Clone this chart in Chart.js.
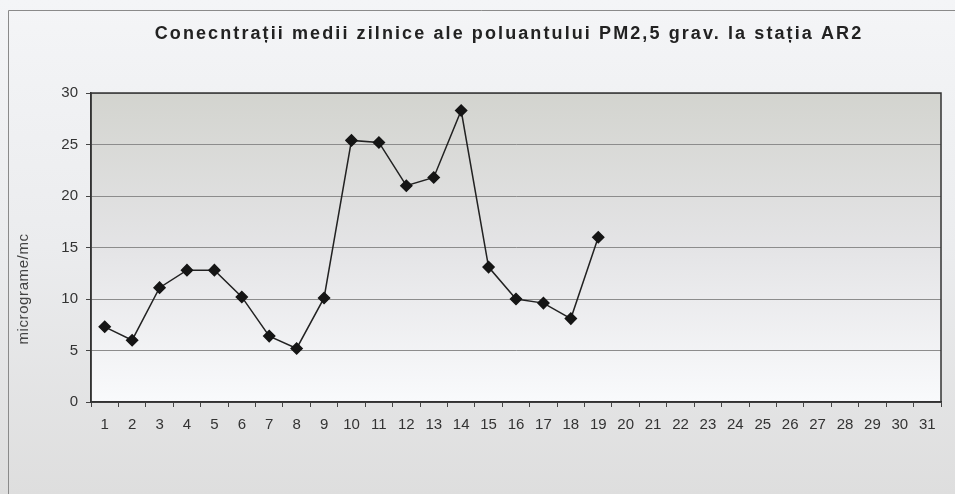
<!DOCTYPE html>
<html>
<head>
<meta charset="utf-8">
<script src="https://cdn.jsdelivr.net/npm/chart.js@4.4.1/dist/chart.umd.min.js"></script>
<style>
  html, body { margin: 0; padding: 0; background: #eeeff1; }
  #wrap { width: 955px; height: 494px; position: relative; }
</style>
</head>
<body>
<div id="wrap"><canvas id="c" width="955" height="494"></canvas></div>
<script>
const titleText = "Conecntrații medii zilnice ale poluantului PM2,5 grav. la stația AR2";
const yAxisTitle = "micrograme/mc";
const days = ["1","2","3","4","5","6","7","8","9","10","11","12","13","14","15","16","17","18","19","20","21","22","23","24","25","26","27","28","29","30","31"];
const pm25 = [7.3, 6.0, 11.1, 12.8, 12.8, 10.2, 6.4, 5.2, 10.1, 25.4, 25.2, 21.0, 21.8, 28.3, 13.1, 10.0, 9.6, 8.1, 16.0,
              null, null, null, null, null, null, null, null, null, null, null, null];
const yTicks = [0, 5, 10, 15, 20, 25, 30];

const decor = {
  id: 'decor',
  beforeDraw(chart) {
    const { ctx, chartArea: a, width, height } = chart;
    ctx.save();
    let g = ctx.createLinearGradient(0, 0, 0, height);
    g.addColorStop(0, '#f4f5f7');
    g.addColorStop(0.5, '#ebecee');
    g.addColorStop(1, '#dedede');
    ctx.fillStyle = g;
    ctx.fillRect(0, 0, width, height);
    ctx.strokeStyle = '#8a8a8a';
    ctx.lineWidth = 1;
    ctx.beginPath();
    ctx.moveTo(8.5, height);
    ctx.lineTo(8.5, 10.5);
    ctx.lineTo(width, 10.5);
    ctx.stroke();
    g = ctx.createLinearGradient(0, a.top, 0, a.bottom);
    g.addColorStop(0, '#d3d4cf');
    g.addColorStop(0.5, '#e4e4e6');
    g.addColorStop(1, '#f9fafc');
    ctx.fillStyle = g;
    ctx.fillRect(a.left, a.top, a.right - a.left, a.bottom - a.top);
    // title
    ctx.fillStyle = '#222';
    ctx.font = 'bold 18px "Liberation Sans", Arial, sans-serif';
    ctx.letterSpacing = '2.1px';
    ctx.textAlign = 'center';
    ctx.textBaseline = 'middle';
    ctx.fillText(titleText, 509, 34);
    ctx.letterSpacing = '0px';
    // y axis title
    ctx.translate(24, 289);
    ctx.rotate(-Math.PI / 2);
    ctx.fillStyle = '#444';
    ctx.font = '15px "Liberation Sans", Arial, sans-serif';
    ctx.letterSpacing = '0.6px';
    ctx.fillText(yAxisTitle, 0, 0);
    ctx.letterSpacing = '0px';
    ctx.restore();
  },
  afterDatasetsDraw(chart) {
    const { ctx, chartArea: a } = chart;
    ctx.save();
    ctx.strokeStyle = '#333';
    ctx.lineWidth = 1.5;
    ctx.strokeRect(a.left, a.top, a.right - a.left, a.bottom - a.top);
    ctx.restore();
  }
};

new Chart(document.getElementById('c'), {
  type: 'line',
  data: {
    labels: days,
    datasets: [{
      data: pm25,
      borderColor: '#222',
      borderWidth: 1.5,
      pointStyle: 'rectRot',
      pointRadius: 5.5,
      pointBackgroundColor: '#151515',
      pointBorderColor: '#151515',
      tension: 0,
      spanGaps: false
    }]
  },
  options: {
    responsive: false,
    animation: false,
    layout: { padding: { left: 51, top: 93, right: 14, bottom: 52 } },
    plugins: { legend: { display: false }, title: { display: false }, tooltip: { enabled: false } },
    scales: {
      x: {
        type: 'category',
        offset: true,
        afterFit(s) { s.height = 40; },
        grid: { offset: true, drawOnChartArea: false, drawTicks: true, tickLength: 5, color: '#444', lineWidth: 1 },
        border: { display: true, color: '#333', width: 1.5 },
        ticks: { color: '#333', padding: 9, autoSkip: false, maxRotation: 0, font: { family: '"Liberation Sans", Arial, sans-serif', size: 15 } }
      },
      y: {
        min: 0, max: 30,
        afterFit(s) { s.width = 40; },
        afterBuildTicks(s) { s.ticks = yTicks.map(v => ({ value: v })); },
        grid: { color: '#8c8c8c', lineWidth: 1, drawTicks: true, tickLength: 5, tickColor: '#444' },
        border: { display: true, color: '#333', width: 1.5 },
        ticks: { color: '#333', padding: 8, font: { family: '"Liberation Sans", Arial, sans-serif', size: 15 } }
      }
    }
  },
  plugins: [decor]
});
</script>
</body>
</html>
